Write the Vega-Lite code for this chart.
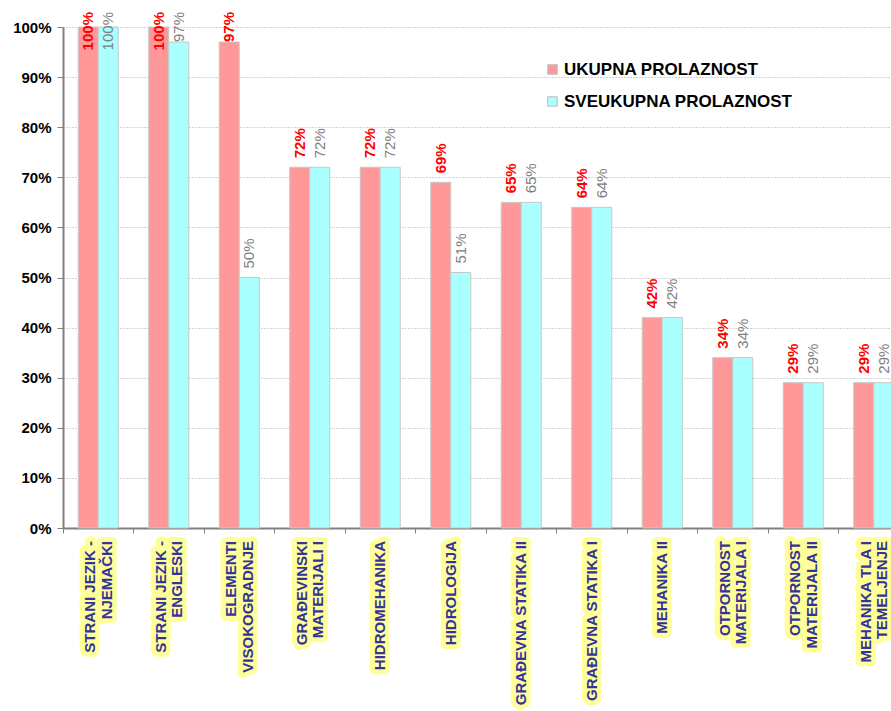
{
  "$schema": "https://vega.github.io/schema/vega-lite/v6.json",
  "width": 828,
  "height": 501,
  "autosize": {"type": "none"},
  "padding": {"left": 63, "top": 27, "right": 0, "bottom": 183},
  "background": "white",
  "config": {"view": {"stroke": null}, "font": "Liberation Sans"},
  "datasets": {
    "bars": [
      {"predmet": "STRANI JEZIK - NJEMAČKI", "serija": "UKUPNA PROLAZNOST", "v": 1.00},
      {"predmet": "STRANI JEZIK - NJEMAČKI", "serija": "SVEUKUPNA PROLAZNOST", "v": 1.00},
      {"predmet": "STRANI JEZIK - ENGLESKI", "serija": "UKUPNA PROLAZNOST", "v": 1.00},
      {"predmet": "STRANI JEZIK - ENGLESKI", "serija": "SVEUKUPNA PROLAZNOST", "v": 0.97},
      {"predmet": "ELEMENTI VISOKOGRADNJE", "serija": "UKUPNA PROLAZNOST", "v": 0.97},
      {"predmet": "ELEMENTI VISOKOGRADNJE", "serija": "SVEUKUPNA PROLAZNOST", "v": 0.50},
      {"predmet": "GRAĐEVINSKI MATERIJALI I", "serija": "UKUPNA PROLAZNOST", "v": 0.72},
      {"predmet": "GRAĐEVINSKI MATERIJALI I", "serija": "SVEUKUPNA PROLAZNOST", "v": 0.72},
      {"predmet": "HIDROMEHANIKA", "serija": "UKUPNA PROLAZNOST", "v": 0.72},
      {"predmet": "HIDROMEHANIKA", "serija": "SVEUKUPNA PROLAZNOST", "v": 0.72},
      {"predmet": "HIDROLOGIJA", "serija": "UKUPNA PROLAZNOST", "v": 0.69},
      {"predmet": "HIDROLOGIJA", "serija": "SVEUKUPNA PROLAZNOST", "v": 0.51},
      {"predmet": "GRAĐEVNA STATIKA II", "serija": "UKUPNA PROLAZNOST", "v": 0.65},
      {"predmet": "GRAĐEVNA STATIKA II", "serija": "SVEUKUPNA PROLAZNOST", "v": 0.65},
      {"predmet": "GRAĐEVNA STATIKA I", "serija": "UKUPNA PROLAZNOST", "v": 0.64},
      {"predmet": "GRAĐEVNA STATIKA I", "serija": "SVEUKUPNA PROLAZNOST", "v": 0.64},
      {"predmet": "MEHANIKA II", "serija": "UKUPNA PROLAZNOST", "v": 0.42},
      {"predmet": "MEHANIKA II", "serija": "SVEUKUPNA PROLAZNOST", "v": 0.42},
      {"predmet": "OTPORNOST MATERIJALA I", "serija": "UKUPNA PROLAZNOST", "v": 0.34},
      {"predmet": "OTPORNOST MATERIJALA I", "serija": "SVEUKUPNA PROLAZNOST", "v": 0.34},
      {"predmet": "OTPORNOST MATERIJALA II", "serija": "UKUPNA PROLAZNOST", "v": 0.29},
      {"predmet": "OTPORNOST MATERIJALA II", "serija": "SVEUKUPNA PROLAZNOST", "v": 0.29},
      {"predmet": "MEHANIKA TLA I TEMELJENJE", "serija": "UKUPNA PROLAZNOST", "v": 0.29},
      {"predmet": "MEHANIKA TLA I TEMELJENJE", "serija": "SVEUKUPNA PROLAZNOST", "v": 0.29}
    ],
    "labels": [
      {"predmet": "STRANI JEZIK - NJEMAČKI", "naziv": ["STRANI JEZIK -", "NJEMAČKI"]},
      {"predmet": "STRANI JEZIK - ENGLESKI", "naziv": ["STRANI JEZIK -", "ENGLESKI"]},
      {"predmet": "ELEMENTI VISOKOGRADNJE", "naziv": ["ELEMENTI", "VISOKOGRADNJE"]},
      {"predmet": "GRAĐEVINSKI MATERIJALI I", "naziv": ["GRAĐEVINSKI", "MATERIJALI I"]},
      {"predmet": "HIDROMEHANIKA", "naziv": ["HIDROMEHANIKA"]},
      {"predmet": "HIDROLOGIJA", "naziv": ["HIDROLOGIJA"]},
      {"predmet": "GRAĐEVNA STATIKA II", "naziv": ["GRAĐEVNA STATIKA II"]},
      {"predmet": "GRAĐEVNA STATIKA I", "naziv": ["GRAĐEVNA STATIKA I"]},
      {"predmet": "MEHANIKA II", "naziv": ["MEHANIKA II"]},
      {"predmet": "OTPORNOST MATERIJALA I", "naziv": ["OTPORNOST", "MATERIJALA I"]},
      {"predmet": "OTPORNOST MATERIJALA II", "naziv": ["OTPORNOST", "MATERIJALA II"]},
      {"predmet": "MEHANIKA TLA I TEMELJENJE", "naziv": ["MEHANIKA TLA I", "TEMELJENJE"]}
    ]
  },
  "encoding": {
    "x": {
      "field": "predmet",
      "type": "nominal",
      "sort": null,
      "title": null,
      "scale": {"range": [0, 846], "paddingInner": 0, "paddingOuter": 0},
      "axis": {
        "labels": false,
        "bandPosition": 0,
        "domainColor": "#808080",
        "domainWidth": 2,
        "tickColor": "#808080",
        "tickWidth": 1,
        "tickSize": 5,
        "grid": false
      }
    }
  },
  "layer": [
    {
      "data": {"name": "bars"},
      "mark": {"type": "bar", "stroke": "#C8C8C8", "strokeWidth": 1},
      "encoding": {
        "xOffset": {
          "field": "serija",
          "scale": {"domain": ["UKUPNA PROLAZNOST", "SVEUKUPNA PROLAZNOST"], "paddingInner": 0, "paddingOuter": 0.76}
        },
        "y": {
          "field": "v",
          "type": "quantitative",
          "title": null,
          "scale": {"domain": [0, 1], "nice": false},
          "axis": {
            "values": [0, 0.1, 0.2, 0.3, 0.4, 0.5, 0.6, 0.7, 0.8, 0.9, 1.0],
            "format": ".0%",
            "labelFont": "Liberation Sans",
            "labelFontSize": 15,
            "labelFontWeight": "bold",
            "labelColor": "#000000",
            "labelPadding": 6,
            "domainColor": "#808080",
            "domainWidth": 2,
            "tickColor": "#808080",
            "tickSize": 6,
            "gridColor": "#A8A8A8",
            "gridDash": [1, 2],
            "gridWidth": 1
          }
        },
        "color": {
          "field": "serija",
          "type": "nominal",
          "scale": {"domain": ["UKUPNA PROLAZNOST", "SVEUKUPNA PROLAZNOST"], "range": ["#FF9999", "#AAFFFF"]},
          "legend": {
            "orient": "none",
            "legendX": 481,
            "legendY": 34,
            "title": null,
            "padding": 0,
            "symbolType": "square",
            "symbolSize": 90,
            "symbolStrokeColor": "#BBBBBB",
            "symbolStrokeWidth": 1,
            "labelFont": "Liberation Sans",
            "labelFontSize": 17,
            "labelFontWeight": "bold",
            "labelColor": "#000000",
            "labelOffset": 3,
            "labelLimit": 400,
            "rowPadding": 14
          }
        }
      }
    },
    {
      "data": {"name": "bars"},
      "transform": [{"filter": "datum.serija === 'UKUPNA PROLAZNOST' && datum.v < 0.965"}],
      "mark": {"type": "text", "angle": 270, "align": "left", "baseline": "middle", "dx": 9, "font": "Liberation Sans", "fontSize": 15, "fontWeight": "bold", "color": "#FF0000"},
      "encoding": {
        "xOffset": {"field": "serija", "scale": {"domain": ["UKUPNA PROLAZNOST", "SVEUKUPNA PROLAZNOST"], "paddingInner": 0, "paddingOuter": 0.76}},
        "y": {"field": "v", "type": "quantitative", "title": null},
        "text": {"field": "v", "type": "quantitative", "format": ".0%"}
      }
    },
    {
      "data": {"name": "bars"},
      "transform": [{"filter": "datum.serija === 'UKUPNA PROLAZNOST' && datum.v >= 0.965"}],
      "mark": {"type": "text", "angle": 270, "align": "right", "baseline": "middle", "dx": 15, "font": "Liberation Sans", "fontSize": 15, "fontWeight": "bold", "color": "#FF0000"},
      "encoding": {
        "xOffset": {"field": "serija", "scale": {"domain": ["UKUPNA PROLAZNOST", "SVEUKUPNA PROLAZNOST"], "paddingInner": 0, "paddingOuter": 0.76}},
        "y": {"datum": 1, "type": "quantitative", "title": null},
        "text": {"field": "v", "type": "quantitative", "format": ".0%"}
      }
    },
    {
      "data": {"name": "bars"},
      "transform": [{"filter": "datum.serija === 'SVEUKUPNA PROLAZNOST' && datum.v < 0.965"}],
      "mark": {"type": "text", "angle": 270, "align": "left", "baseline": "middle", "dx": 9, "font": "Liberation Sans", "fontSize": 15, "fontWeight": "normal", "color": "#808080"},
      "encoding": {
        "xOffset": {"field": "serija", "scale": {"domain": ["UKUPNA PROLAZNOST", "SVEUKUPNA PROLAZNOST"], "paddingInner": 0, "paddingOuter": 0.76}},
        "y": {"field": "v", "type": "quantitative", "title": null},
        "text": {"field": "v", "type": "quantitative", "format": ".0%"}
      }
    },
    {
      "data": {"name": "bars"},
      "transform": [{"filter": "datum.serija === 'SVEUKUPNA PROLAZNOST' && datum.v >= 0.965"}],
      "mark": {"type": "text", "angle": 270, "align": "right", "baseline": "middle", "dx": 15, "font": "Liberation Sans", "fontSize": 15, "fontWeight": "normal", "color": "#808080"},
      "encoding": {
        "xOffset": {"field": "serija", "scale": {"domain": ["UKUPNA PROLAZNOST", "SVEUKUPNA PROLAZNOST"], "paddingInner": 0, "paddingOuter": 0.76}},
        "y": {"datum": 1, "type": "quantitative", "title": null},
        "text": {"field": "v", "type": "quantitative", "format": ".0%"}
      }
    },
    {
      "data": {"name": "labels"},
      "transform": [{"filter": "datum.naziv.length > 1"}],
      "mark": {"type": "text", "angle": 270, "align": "right", "baseline": "middle", "dx": -13, "dy": -8, "font": "Liberation Sans", "fontSize": 15, "fontWeight": "bold", "lineHeight": 16.5, "fill": "#FFFF99", "stroke": "#FFFF99", "strokeWidth": 10, "strokeJoin": "round"},
      "encoding": {
        "y": {"datum": 0, "type": "quantitative", "title": null},
        "text": {"field": "naziv"}
      }
    },
    {
      "data": {"name": "labels"},
      "transform": [{"filter": "datum.naziv.length === 1"}],
      "mark": {"type": "text", "angle": 270, "align": "right", "baseline": "middle", "dx": -13, "font": "Liberation Sans", "fontSize": 15, "fontWeight": "bold", "lineHeight": 16.5, "fill": "#FFFF99", "stroke": "#FFFF99", "strokeWidth": 10, "strokeJoin": "round"},
      "encoding": {
        "y": {"datum": 0, "type": "quantitative", "title": null},
        "text": {"field": "naziv"}
      }
    },
    {
      "data": {"name": "labels"},
      "transform": [{"filter": "datum.naziv.length > 1"}],
      "mark": {"type": "text", "angle": 270, "align": "right", "baseline": "middle", "dx": -13, "dy": -8, "font": "Liberation Sans", "fontSize": 15, "fontWeight": "bold", "lineHeight": 16.5, "color": "#333399"},
      "encoding": {
        "y": {"datum": 0, "type": "quantitative", "title": null},
        "text": {"field": "naziv"}
      }
    },
    {
      "data": {"name": "labels"},
      "transform": [{"filter": "datum.naziv.length === 1"}],
      "mark": {"type": "text", "angle": 270, "align": "right", "baseline": "middle", "dx": -13, "font": "Liberation Sans", "fontSize": 15, "fontWeight": "bold", "lineHeight": 16.5, "color": "#333399"},
      "encoding": {
        "y": {"datum": 0, "type": "quantitative", "title": null},
        "text": {"field": "naziv"}
      }
    }
  ]
}
